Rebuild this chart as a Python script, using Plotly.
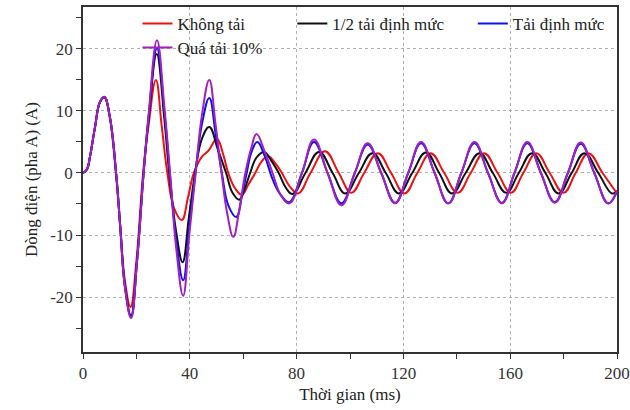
import plotly.graph_objects as go

# (time ms, current A) pairs
khong_tai = [(0,0),(1.5,0.6),(2.6,2.6),(4.5,7.4),(6.4,11.5),(8.0,12.2),(10.0,9.0),(12.3,0),(14.0,-8.8),(15.7,-17.4),(17.8,-21.6),(20.0,-14.2),(22.5,0),(24.5,7.5),(27.3,15.0),(29.5,7.5),(31.6,0),(34.2,-5.8),(37.0,-7.6),(39.3,-4.0),(41.5,0),(44.5,2.6),(47.0,3.6),(50.2,5.5),(52.5,3.0),(54.4,0),(57.0,-2.5),(59.5,-3.5),(62.0,-1.8),(64.5,0),(66.8,1.8),(69.3,2.7),(72.0,1.6),(74.5,0),(77.5,-2.2),(80.6,-3.3),(85.2,0),(90.6,3.5),(95.8,0),(100.5,-3.2),(105.3,0),(110.4,3.2),(115.4,0),(120.4,-3.3),(125.2,0),(130.2,3.2),(135.3,0),(140.3,-3.2),(145.2,0),(150.2,3.2),(155.3,0),(160.3,-3.2),(164.9,0),(169.8,3.2),(174.8,0),(180.0,-3.2),(184.5,0),(189.3,3.2),(194.6,0),(200,-3.3)]
nua_tai = [(0,0),(1.5,0.6),(2.6,2.6),(4.5,7.4),(6.4,11.5),(8.0,12.2),(10.0,9.2),(12.4,0),(14.0,-9.0),(15.7,-18.2),(18.0,-23.0),(20.2,-14.3),(22.7,0),(24.6,8.8),(27.6,19.2),(30.4,9.0),(32.3,0),(34.9,-9.5),(37.3,-14.4),(39.7,-7.0),(42.0,0),(44.6,5.6),(47.3,7.4),(50.5,3.8),(53.6,0),(56.0,-3.2),(58.5,-4.3),(60.5,-2.6),(62.6,0),(65.0,2.5),(67.8,3.4),(70.5,2.0),(73.3,0),(76.0,-2.4),(78.5,-3.4),(83.3,0),(88.4,3.4),(93.5,0),(98.2,-3.3),(103.3,0),(108.4,3.2),(113.4,0),(118.3,-3.3),(123.3,0),(128.4,3.3),(133.4,0),(138.2,-3.3),(143.3,0),(148.5,3.2),(153.5,0),(158.5,-3.2),(163.2,0),(168.2,3.2),(173.2,0),(178.1,-3.3),(183.0,0),(187.8,3.2),(193.0,0),(198.1,-3.3),(200,-3.0)]
dinh_muc = [(0,0),(1.5,0.6),(2.6,2.6),(4.5,7.4),(6.4,11.5),(8.0,12.2),(10.0,9.2),(12.4,0),(14.0,-9.0),(15.7,-18.3),(18.0,-23.2),(20.2,-14.4),(22.7,0),(24.6,9.2),(27.7,20.1),(30.5,9.8),(32.5,0),(35.0,-11.2),(37.5,-17.3),(39.8,-8.8),(42.1,0),(44.6,8.0),(47.3,12.1),(49.7,6.2),(52.0,0),(54.5,-5.3),(57.4,-7.1),(59.5,-3.8),(61.3,0),(63.2,3.5),(65.3,5.0),(68.0,2.8),(71.0,-1.0),(74.0,-3.5),(77.3,-4.7),(82.0,0),(86.5,5.0),(91.6,0),(96.8,-4.9),(101.8,0),(106.6,4.6),(111.7,0),(116.9,-4.8),(121.8,0),(126.6,4.8),(131.7,0),(136.8,-4.9),(141.7,0),(146.6,4.8),(151.7,0),(156.9,-4.8),(161.6,0),(166.4,4.8),(171.5,0),(176.7,-4.7),(181.6,0),(186.4,4.7),(191.5,0),(196.7,-4.9),(200,-3.0)]
qua_tai = [(0,0),(1.5,0.6),(2.6,2.6),(4.5,7.4),(6.4,11.5),(8.0,12.3),(10.0,9.2),(12.4,0),(14.0,-9.0),(15.7,-18.4),(18.0,-23.4),(20.2,-14.5),(22.7,0),(24.6,9.5),(27.7,21.4),(30.5,10.5),(32.6,0),(35.0,-12.5),(37.5,-19.8),(39.8,-10.0),(42.2,0),(44.6,9.5),(47.3,15.0),(49.6,8.0),(51.9,0),(54.0,-6.5),(56.3,-10.3),(58.5,-6.0),(60.8,0),(63.0,4.0),(65.0,6.3),(68.0,3.5),(71.0,0),(74.0,-3.5),(77.3,-4.9),(82.0,0),(86.5,5.4),(91.6,0),(96.8,-5.2),(101.8,0),(106.6,4.8),(111.7,0),(116.9,-4.9),(121.8,0),(126.6,5.0),(131.7,0),(136.8,-4.9),(141.7,0),(146.6,5.0),(151.7,0),(156.9,-4.9),(161.6,0),(166.4,5.0),(171.5,0),(176.7,-4.8),(181.6,0),(186.4,4.9),(191.5,0),(196.7,-4.9),(200,-2.8)]

series_names = ["Không tải", "1/2 tải định mức", "Tải định mức", "Quá tải 10%"]
series_data = [khong_tai, nua_tai, dinh_muc, qua_tai]
series_colors = ["#EE1111", "#111111", "#1010EE", "#A020C0"]

x_tickvals = [0, 40, 80, 120, 160, 200]
y_tickvals = [-20, -10, 0, 10, 20]
y_ticktext = ["-20", "-10", "0", "10", "20"]

legend_ids = ["legend", "legend2", "legend3", "legend4"]
legend_pos = [(0.102, 0.951), (0.392, 0.951), (0.73, 0.951), (0.102, 0.881)]

fig = go.Figure()
for name, data, color, lid in zip(series_names, series_data, series_colors, legend_ids):
    fig.add_trace(go.Scatter(
        x=[p[0] for p in data], y=[p[1] for p in data], name=name, mode="lines",
        line=dict(color=color, width=2, shape="spline", smoothing=1.2),
        legend=lid, showlegend=True,
    ))

font_family = "Liberation Serif"
axis_common = dict(
    showline=True, linecolor="#333", linewidth=1.5, mirror=True,
    ticks="outside", ticklen=5, tickcolor="#333", tickwidth=1.2,
    showgrid=True, gridcolor="#b0b0b0", griddash="dot", gridwidth=1,
    zeroline=False, tickfont=dict(family=font_family, size=17, color="#333"),
)

fig.update_xaxes(range=[0, 200], tickvals=x_tickvals,
                 minor=dict(dtick=20, tick0=0, ticks="outside", ticklen=5, tickcolor="#333", showgrid=False),
                 title=dict(text="Thời gian (ms)", font=dict(family=font_family, size=17, color="#222"), standoff=6),
                 **axis_common)
fig.update_yaxes(range=[-28.87, 26.77], tickvals=y_tickvals, ticktext=y_ticktext,
                 minor=dict(dtick=5, tick0=0, ticks="outside", ticklen=5, tickcolor="#333", showgrid=False),
                 title=dict(text="Dòng điện (pha A) (A)", font=dict(family=font_family, size=17, color="#222"), standoff=8),
                 **axis_common)

layout_legends = {}
for lid, (lx, ly) in zip(legend_ids, legend_pos):
    layout_legends[lid] = dict(x=lx, y=ly, xanchor="left", yanchor="middle",
                               bgcolor="rgba(0,0,0,0)", borderwidth=0,
                               font=dict(family=font_family, size=17, color="#222"))

fig.update_layout(width=630, height=410,
                  margin=dict(l=83, r=13, t=7, b=58, autoexpand=False),
                  paper_bgcolor="white", plot_bgcolor="white", showlegend=True,
                  font=dict(family=font_family, size=17, color="#222"),
                  **layout_legends)

fig.write_html("out.html")
